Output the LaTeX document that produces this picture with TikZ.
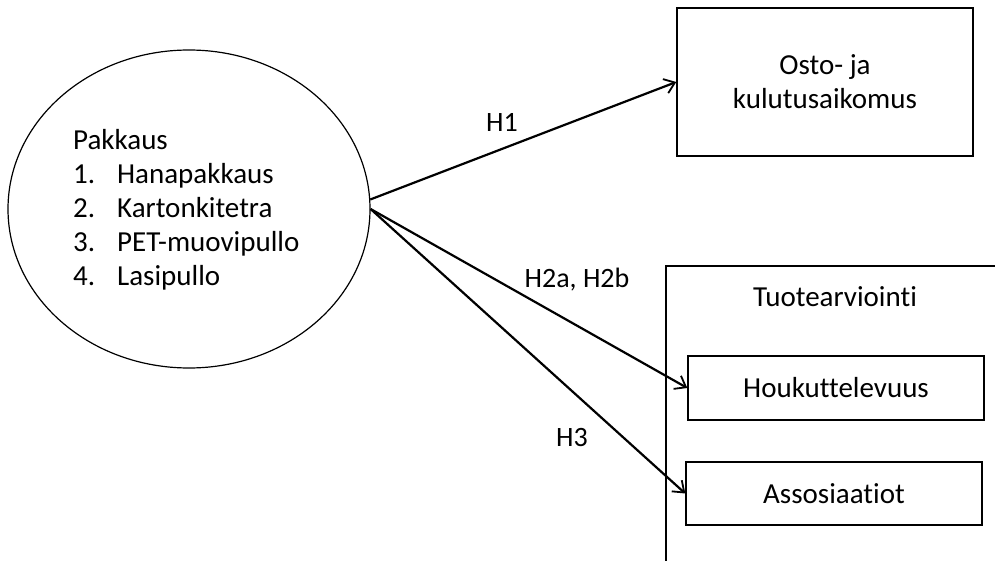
\documentclass[tikz,border=0pt]{standalone}
\usepackage{fontspec}
\setmainfont{Carlito}[Ligatures=NoCommon]
\usepackage{array}
\usetikzlibrary{shapes.geometric, arrows.meta, positioning}

\begin{document}
\begin{tikzpicture}[x=1pt, y=-1pt,
		every node/.style={font=\fontsize{29}{34}\selectfont},
		box/.style={draw, line width=1.4pt, minimum width=\boxw pt, align=center, inner sep=0pt},
		link/.style={-{Straight Barb[length=10pt, width=15pt, line width=1.8pt]}, line width=2.2pt},
		hlabel/.style={font=\fontsize{28}{34}\selectfont}]
	
	% Define the width of the boxes
	\def\boxw{296} % all boxes on the right have this width
	
	\useasboundingbox (0,0) rectangle (995,561);
	
	% The packaging ellipse and its list
	\node[ellipse, draw, line width=1.2pt, minimum width=362pt, minimum height=318pt] (pakkaus) at (189,209) {};
	\node[anchor=base west, inner sep=0pt] (lista) at (73,150)
		{\begin{tabular}[t]{@{}p{44pt}@{}l@{}}
			\multicolumn{2}{@{}l@{}}{Pakkaus}\\
			1. & Hanapakkaus\\
			2. & Kartonkitetra\\
			3. & PET-muovipullo\\
			4. & Lasipullo
		\end{tabular}};
	
	% Outcome boxes
	\node[box, minimum height=148pt] (osto) at (825,82) {Osto- ja\\kulutusaikomus};
	\node[box, minimum height=64pt] (houk) at (836,388) {Houkuttelevuus};
	\node[box, minimum height=63pt] (asso) at (834,493.5) {Assosiaatiot};
	
	% Product evaluation frame (runs off the page)
	\coordinate (kulma) at (666,266);
	\draw[line width=1.4pt] (666,561) -- (kulma) -- (995,266);
	\node (tuote) at (835,297) {Tuotearviointi};
	
	% Hypotheses
	\draw[link] (pakkaus.3) -- (osto.west);
	\draw[link] (pakkaus.east) -- (houk.west);
	\draw[link] (pakkaus.east) -- (asso.west);
	\node[hlabel] (h1) at (502,122) {H1};
	\node[hlabel] (h2) at (577,280) {H2a, H2b};
	\node[hlabel] (h3) at (572,438) {H3};
	
\end{tikzpicture}
\end{document}
